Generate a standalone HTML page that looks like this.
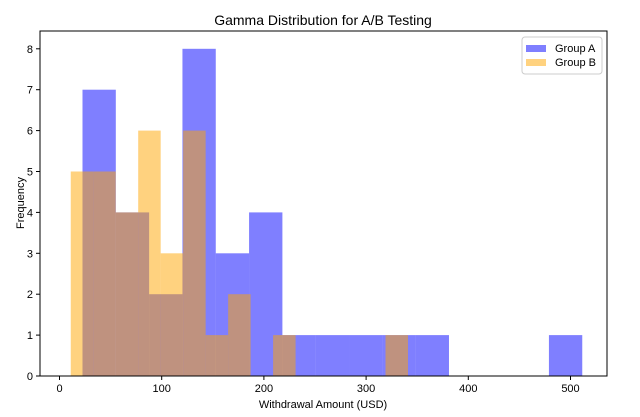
<!DOCTYPE html>
<html><head><meta charset="utf-8"><style>
body{margin:0;background:#fff}
svg text{font-family:"Liberation Sans",sans-serif;fill:#000}
</style></head><body>
<svg id="chart" width="640" height="412" xmlns="http://www.w3.org/2000/svg">
<text x="323" y="25" font-size="14" text-anchor="middle">Gamma Distribution for A/B Testing</text>
<g id="bars"></g>
<rect x="40" y="31" width="567" height="345" fill="none" stroke="#000" stroke-width="1"/>
<g id="axes"></g>
<text x="323" y="408" font-size="11" text-anchor="middle">Withdrawal Amount (USD)</text>
<text x="24" y="203" font-size="11" text-anchor="middle" transform="rotate(-90 24 203)">Frequency</text>
<g>
<rect x="522" y="37" width="80" height="37" rx="3" fill="#fff" fill-opacity="0.8" stroke="#ccc"/>
<g><rect x="526" y="45" width="20" height="7" fill="rgba(0,0,255,0.5)"/><text x="555" y="52" font-size="11">Group A</text></g>
<g><rect x="526" y="59" width="20" height="7" fill="rgba(255,165,0,0.5)"/><text x="555" y="66" font-size="11">Group B</text></g>
</g>
</svg>
<script>
const aStart = 22.5, aWidth = 32.6;
const groupA = [7,4,2,8,3,4,1,1,1,1,1,0,0,0,1];
const bStart = 11, bWidth = 22;
const groupB = [5,5,4,6,3,6,1,2,0,1,0,0,0,0,1];
const xTicks = [0,100,200,300,400,500];
const yTicks = [0,1,2,3,4,5,6,7,8];
const NS="http://www.w3.org/2000/svg";
const xs=v=>59.5+v*1.022;
const ys=v=>376-v*40.9;
const bars=document.getElementById('bars'), axes=document.getElementById('axes');
function drawSeries(start,w,vals,color,name){
  vals.forEach((c,i)=>{ if(!c) return;
    const r=document.createElementNS(NS,'rect');
    const x0=xs(start+i*w), x1=xs(start+(i+1)*w);
    r.setAttribute('x',x0);r.setAttribute('width',x1-x0);
    r.setAttribute('y',ys(c));r.setAttribute('height',ys(0)-ys(c));
    r.setAttribute('fill',color);
    
    
    bars.appendChild(r);});
}
drawSeries(aStart,aWidth,groupA,'rgba(0,0,255,0.5)','group-a');
drawSeries(bStart,bWidth,groupB,'rgba(255,165,0,0.5)','group-b');
xTicks.forEach(t=>{
  const l=document.createElementNS(NS,'line');
  l.setAttribute('x1',xs(t));l.setAttribute('x2',xs(t));l.setAttribute('y1',376);l.setAttribute('y2',380);l.setAttribute('stroke','#000');
  
  
  axes.appendChild(l);
  const tx=document.createElementNS(NS,'text');
  tx.setAttribute('x',xs(t));tx.setAttribute('y',392);tx.setAttribute('font-size','11');tx.setAttribute('text-anchor','middle');
  tx.textContent=t;
  
  
  axes.appendChild(tx);
});
yTicks.forEach(t=>{
  const l=document.createElementNS(NS,'line');
  l.setAttribute('x1',36);l.setAttribute('x2',40);l.setAttribute('y1',ys(t));l.setAttribute('y2',ys(t));l.setAttribute('stroke','#000');
  
  
  axes.appendChild(l);
  const tx=document.createElementNS(NS,'text');
  tx.setAttribute('x',33);tx.setAttribute('y',ys(t)+4);tx.setAttribute('font-size','11');tx.setAttribute('text-anchor','end');
  tx.textContent=t;
  
  
  axes.appendChild(tx);
});
</script>
</body></html>
